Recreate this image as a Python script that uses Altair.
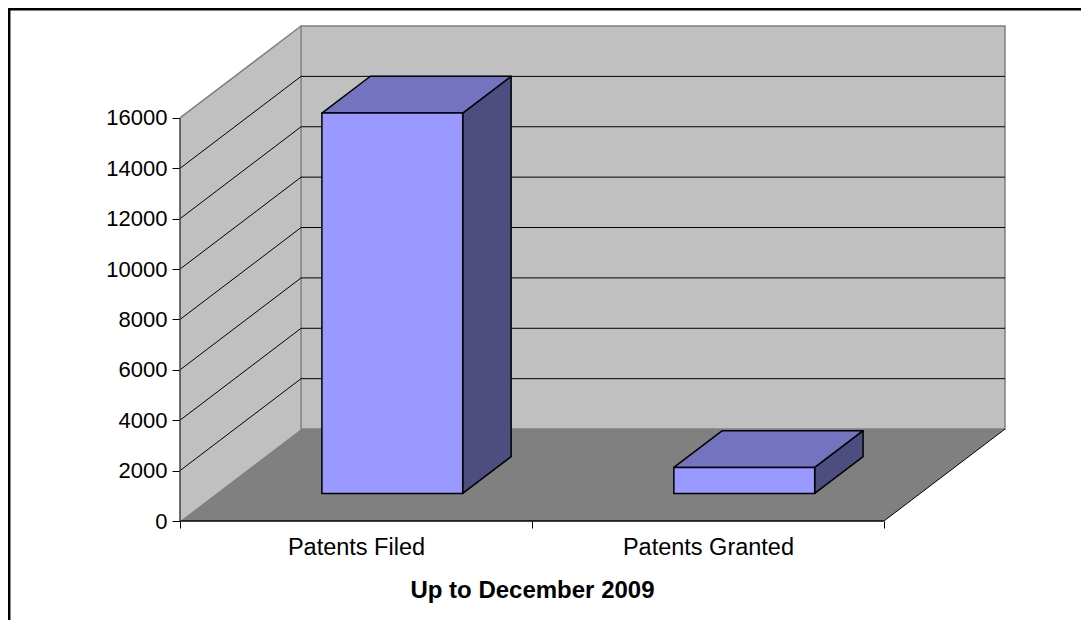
import altair as alt
import pandas as pd

# ---------------- data ----------------
CATEGORIES = ["Patents Filed", "Patents Granted"]
VALUES = [15100, 1030]
Y_TICKS = [0, 2000, 4000, 6000, 8000, 10000, 12000, 14000, 16000]
X_TITLE = "Up to December 2009"

# ---------------- 3D geometry (in data units) ----------------
Y_MAX = 16000
DX = 0.344      # depth offset, category units
DY = 3650       # depth offset, value units
BAR_HALF = 0.2  # half bar width, category units
D0, D1 = 0.3, 0.7  # bar depth range (fraction of depth)
NCAT = len(CATEGORIES)

W, H = 825, 495
PAD_L, PAD_T = 172, 18
TOTAL_W, TOTAL_H = 1073, 612
CAT_PX = W / (NCAT + DX)

FONT = "Liberation Sans"
FRONT, TOP, SIDE = "#9999FF", "#7373BF", "#4D4D80"
WALL, FLOOR, EDGE = "#C0C0C0", "#808080", "#808080"

XS = alt.Scale(domain=[0, NCAT + DX], nice=False, zero=False)
YS = alt.Scale(domain=[0, Y_MAX + DY], nice=False, zero=False)

cat_js = "[" + ",".join("'%s'" % c for c in CATEGORIES) + "]"
XAX = alt.Axis(values=list(range(NCAT + 1)), title=X_TITLE,
               labelExpr=cat_js + "[datum.value] || ''",
               labelOffset=CAT_PX / 2, tickSize=7, tickColor="black", tickWidth=1,
               domain=False, grid=False, labelFont=FONT, labelFontSize=23.5,
               labelColor="black", labelPadding=7, labelFlush=False, labelOverlap=False,
               titleFont=FONT, titleFontSize=24, titleFontWeight="bold", titleColor="black",
               titleX=NCAT * CAT_PX / 2, titleY=69, titleBaseline="middle")
YAX = alt.Axis(values=Y_TICKS, title=None, domain=False, grid=False, tickSize=8,
               tickColor="black", tickWidth=1, labelFont=FONT, labelFontSize=22,
               labelColor="black", labelPadding=5, format="d")


def X(f):
    return alt.X(f + ":Q", scale=XS, axis=XAX, stack=None)


def Y(f):
    return alt.Y(f + ":Q", scale=YS, axis=YAX, stack=None)


def X2(f):
    return alt.X2(f + ":Q")


def Y2(f):
    return alt.Y2(f + ":Q")


# ---------------- tables ----------------
left_wall = pd.DataFrame({"x": [0, DX], "y": [0, DY], "y2": [Y_MAX, Y_MAX + DY]})
back_wall = pd.DataFrame({"x": [DX], "x2": [NCAT + DX], "y": [DY], "y2": [Y_MAX + DY]})
floor = pd.DataFrame({"y": [0, DY], "x": [0, DX], "x2": [NCAT, NCAT + DX]})
inner = Y_TICKS[1:-1]
grid_back = pd.DataFrame({"x": [DX] * len(inner), "x2": [NCAT + DX] * len(inner),
                          "y": [v + DY for v in inner]})
grid_left = pd.DataFrame({"x": [0] * len(inner), "x2": [DX] * len(inner),
                          "y": inner, "y2": [v + DY for v in inner]})
left_top = pd.DataFrame({"x": [0], "x2": [DX], "y": [Y_MAX], "y2": [Y_MAX + DY]})
floor_right = pd.DataFrame({"x": [NCAT], "x2": [NCAT + DX], "y": [0], "y2": [DY]})
floor_front = pd.DataFrame({"x": [0], "x2": [NCAT], "y": [0]})
yaxis_line = pd.DataFrame({"x": [0], "y": [0], "y2": [Y_MAX]})

front_rows, top_rows, side_rows = [], [], []
for i, (c, v) in enumerate(zip(CATEGORIES, VALUES)):
    m = i + 0.5
    front_rows.append({"cat": c, "x": m - BAR_HALF + D0 * DX, "x2": m + BAR_HALF + D0 * DX,
                       "y": D0 * DY, "y2": v + D0 * DY})
    for d in (D0, D1):
        top_rows.append({"cat": c, "y": v + d * DY,
                         "x": m - BAR_HALF + d * DX, "x2": m + BAR_HALF + d * DX})
        side_rows.append({"cat": c, "x": m + BAR_HALF + d * DX,
                          "y": d * DY, "y2": v + d * DY})
front_df = pd.DataFrame(front_rows)
top_df = pd.DataFrame(top_rows)
side_df = pd.DataFrame(side_rows)

# ---------------- layers ----------------
# outer frame of the chart (page pixel 9 -> view coordinate)
border = alt.Chart(pd.DataFrame({"a": [0]})).mark_rect(
    fill="white", fillOpacity=0, stroke="black", strokeWidth=2.5
).encode(x=alt.value(9.2 - 8 - PAD_L), x2=alt.value(1300),
         y=alt.value(9.2 - 8 - PAD_T), y2=alt.value(900))

l_wall = alt.Chart(left_wall).mark_area(color=WALL).encode(x=X("x"), y=Y("y"), y2=Y2("y2"))
b_wall = alt.Chart(back_wall).mark_rect(fill=WALL, stroke=EDGE, strokeWidth=1.5).encode(
    x=X("x"), x2=X2("x2"), y=Y("y"), y2=Y2("y2"))
g_back = alt.Chart(grid_back).mark_rule(color="black", strokeWidth=1).encode(
    x=X("x"), x2=X2("x2"), y=Y("y"))
g_left = alt.Chart(grid_left).mark_rule(color="black", strokeWidth=1).encode(
    x=X("x"), x2=X2("x2"), y=Y("y"), y2=Y2("y2"))
l_top = alt.Chart(left_top).mark_rule(color=EDGE, strokeWidth=1.5).encode(
    x=X("x"), x2=X2("x2"), y=Y("y"), y2=Y2("y2"))
flr = alt.Chart(floor).mark_area(color=FLOOR, orient="horizontal").encode(
    y=Y("y"), x=X("x"), x2=X2("x2"))
f_right = alt.Chart(floor_right).mark_rule(color="black", strokeWidth=1).encode(
    x=X("x"), x2=X2("x2"), y=Y("y"), y2=Y2("y2"))
f_front = alt.Chart(floor_front).mark_rule(color="black", strokeWidth=1.5).encode(
    x=X("x"), x2=X2("x2"), y=Y("y"))
y_line = alt.Chart(yaxis_line).mark_rule(color="#404040", strokeWidth=1.5).encode(
    x=X("x"), y=Y("y"), y2=Y2("y2"))

bar_side = alt.Chart(side_df).mark_area(fill=SIDE, stroke="black", strokeWidth=1.5,
                                        strokeJoin="round").encode(
    x=X("x"), y=Y("y"), y2=Y2("y2"), detail="cat:N")
bar_top = alt.Chart(top_df).mark_area(fill=TOP, stroke="black", strokeWidth=1.5,
                                      orient="horizontal", strokeJoin="round").encode(
    y=Y("y"), x=X("x"), x2=X2("x2"), detail="cat:N")
bar_front = alt.Chart(front_df).mark_rect(fill=FRONT, stroke="black", strokeWidth=1.5).encode(
    x=X("x"), x2=X2("x2"), y=Y("y"), y2=Y2("y2"))

chart = alt.layer(
    l_wall, b_wall, g_back, g_left, l_top, flr, f_right, f_front, y_line,
    bar_side, bar_top, bar_front, border
).properties(
    width=W, height=H,
    padding={"left": PAD_L, "top": PAD_T, "right": TOTAL_W - PAD_L - W,
             "bottom": TOTAL_H - PAD_T - H},
    autosize=alt.AutoSizeParams(type="none"),
    background="white",
).configure_view(strokeWidth=0)

chart.save("out.html", embed_options={"renderer": "svg", "actions": False})
